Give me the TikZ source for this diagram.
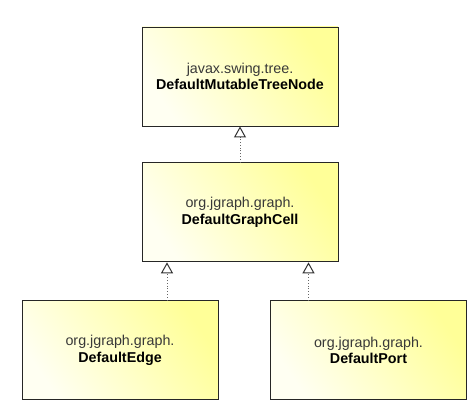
\documentclass[tikz,border=0pt]{standalone}
\usepackage{fontspec}
\setmainfont{Liberation Sans}
\usetikzlibrary{positioning,arrows.meta}

\definecolor{boxyellow}{HTML}{FFFF98}
\definecolor{boxwhite}{HTML}{FFFFF2}

\tikzstyle{classbox} = [
rectangle,
minimum width=196pt,
minimum height=99pt,
align=center,
draw=black!85,
line width=0.9pt,
shading=axis,
top color=boxyellow,
bottom color=boxwhite,
shading angle=-55,
font=\fontsize{14.3pt}{16.5pt}\selectfont
]
\tikzstyle{inherit} = [
dotted,
line width=0.8pt,
draw=black!60,
-{Triangle[open,width=12pt,length=11pt,line width=1pt,color=black!80]}
]
\newcommand{\pkgname}[1]{\textcolor{black!78}{#1}}

\begin{document}
\begin{tikzpicture}[
x=1pt,
y=1pt
]

\useasboundingbox (0,0) rectangle (471,-403);

% Nodes
\node (treenode) [classbox] at (240,-76.5)
{\pkgname{javax.swing.tree.}\\ \textbf{DefaultMutableTreeNode}};

\node (cell) [classbox, below=36pt of treenode]
{\pkgname{org.jgraph.graph.}\\ \textbf{DefaultGraphCell}};

\node (edge) [classbox, below=38pt of cell, xshift=-120pt]
{\pkgname{org.jgraph.graph.}\\ \textbf{DefaultEdge}};

\node (port) [classbox, below=38pt of cell, xshift=128.5pt]
{\pkgname{org.jgraph.graph.}\\ \textbf{DefaultPort}};

% Arrows
\draw [inherit] (cell) -- (treenode);
\draw [inherit] ([xshift=47pt]edge.north) -- ([xshift=47pt]edge.north |- cell.south);
\draw [inherit] ([xshift=-60pt]port.north) -- ([xshift=-60pt]port.north |- cell.south);

\end{tikzpicture}
\end{document}
